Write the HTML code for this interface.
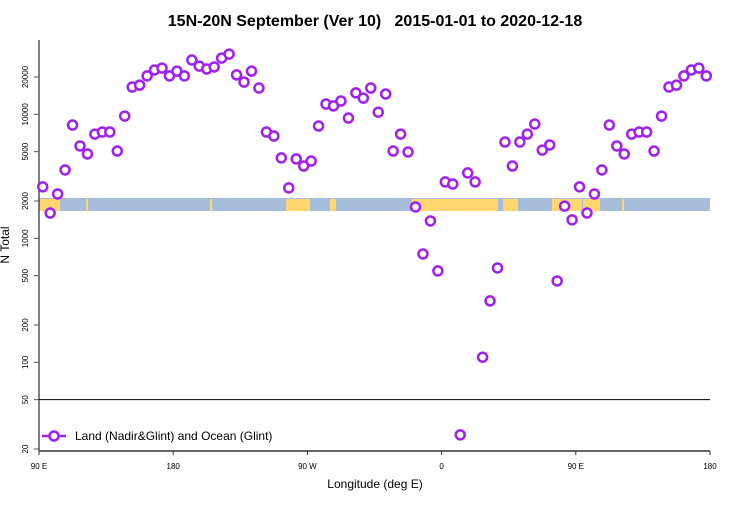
<!DOCTYPE html>
<html><head><meta charset="utf-8"><style>
body{margin:0;background:#fff;}
svg text{font-family:"Liberation Sans",sans-serif;}
</style></head><body>
<svg id="chart" width="750" height="500" xmlns="http://www.w3.org/2000/svg">
<text x="375" y="26" text-anchor="middle" font-size="16" font-weight="bold" style="white-space:pre">15N-20N September (Ver 10)   2015-01-01 to 2020-12-18</text>
<g id="map"></g>
<g id="axes"></g>
<g id="marks"></g>
<text transform="translate(9,245) rotate(-90)" text-anchor="middle" font-size="12">N Total</text>
<text x="375" y="488" text-anchor="middle" font-size="12">Longitude (deg E)</text>
<g>
<line x1="42" y1="436" x2="66" y2="436" stroke="#a020f0" stroke-width="2.5"/>
<circle cx="54" cy="436" r="4.5" fill="#fff" stroke="#a020f0" stroke-width="2.5"/>
<text x="75" y="440" font-size="12">Land (Nadir&amp;Glint) and Ocean (Glint)</text>
</g>
</svg>
<script>
const lons=[92.5,97.5,102.5,107.5,112.5,117.5,122.5,127.5,132.5,137.5,142.5,147.5,152.5,157.5,162.5,167.5,172.5,177.5,182.5,187.5,192.5,197.5,202.5,207.5,212.5,217.5,222.5,227.5,232.5,237.5,242.5,247.5,252.5,257.5,262.5,267.5,272.5,277.5,282.5,287.5,292.5,297.5,302.5,307.5,312.5,317.5,322.5,327.5,332.5,337.5,342.5,347.5,352.5,357.5,362.5,367.5,372.5,377.5,382.5,387.5,392.5,397.5,402.5,407.5,412.5,417.5,422.5,427.5,432.5,437.5,442.5,447.5,452.5,457.5,462.5,467.5,472.5,477.5,482.5,487.5,492.5,497.5,502.5,507.5,512.5,517.5,522.5,527.5,532.5,537.5];
const values=[2600,1600,2280,3560,8200,5560,4790,6930,7200,7200,5060,9680,16600,17200,20400,22800,23600,20400,22300,20400,27400,24500,23200,24100,28400,30600,20800,18200,22300,16300,7200,6680,4450,2550,4370,3830,4200,8050,12100,11700,12800,9330,14900,13500,16300,10400,14600,5060,6930,4970,1790,748,1380,546,2850,2740,26,3370,2850,110,313,577,5980,3830,5980,6930,8350,5150,5660,453,1820,1410,2600,1600,2280,3560,8200,5560,4790,6930,7200,7200,5060,9680,16600,17200,20400,22800,23600,20400];
const yTicks=[20,50,100,200,500,1000,2000,5000,10000,20000];
const xTickVals=[90,180,270,360,450,540];
const xTickLabels=["90 E","180","90 W","0","90 E","180"];
const X0=39,X1=710,L0=90,L1=540;
function xs(l){return X0+(l-L0)/(L1-L0)*(X1-X0);}
function ys(v){return 77+(Math.log10(20000)-Math.log10(v))*124;}
const NS="http://www.w3.org/2000/svg";
function mk(t,a,p){const e=document.createElementNS(NS,t);for(const k in a)e.setAttribute(k,a[k]);p.appendChild(e);return e;}
const map=document.getElementById('map');
mk('rect',{x:39,y:198,width:671,height:13,fill:'#a6bddb'},map);
const land=[[39,48],[48,60],[86,88],[210,212],[286,300],[300,310],[330,336],[412,498],[503,518],[552,582],[583,600],[622,624]];
land.forEach(s=>mk('rect',{x:s[0],y:199,width:s[1]-s[0],height:12,fill:'#ffd670'},map));
const ax=document.getElementById('axes');
let e=mk('line',{x1:39,y1:40,x2:39,y2:451,stroke:'#000','stroke-width':1},ax);

e=mk('line',{x1:39,y1:451,x2:710,y2:451,stroke:'#333','stroke-width':1.5},ax);

e=mk('line',{x1:39,y1:ys(50),x2:710,y2:ys(50),stroke:'#000','stroke-width':1},ax);

yTicks.forEach(v=>{const y=ys(v);mk('line',{x1:34,y1:y,x2:39,y2:y,stroke:'#555'},ax);
const t=mk('text',{transform:`translate(28,${y}) rotate(-90)`,'text-anchor':'middle','font-size':8},ax);t.textContent=v;
});
xTickVals.forEach((l,i)=>{const x=xs(l);mk('line',{x1:x,y1:451,x2:x,y2:455,stroke:'#333'},ax);
const t=mk('text',{x:x,y:469,'text-anchor':'middle','font-size':8},ax);t.textContent=xTickLabels[i];
});
const g=document.getElementById('marks');
lons.forEach((l,i)=>{const c=mk('circle',{cx:xs(l),cy:ys(values[i]),r:4.5,fill:'#fff',stroke:'#a020f0','stroke-width':2.5},g);

});
</script>
</body></html>
